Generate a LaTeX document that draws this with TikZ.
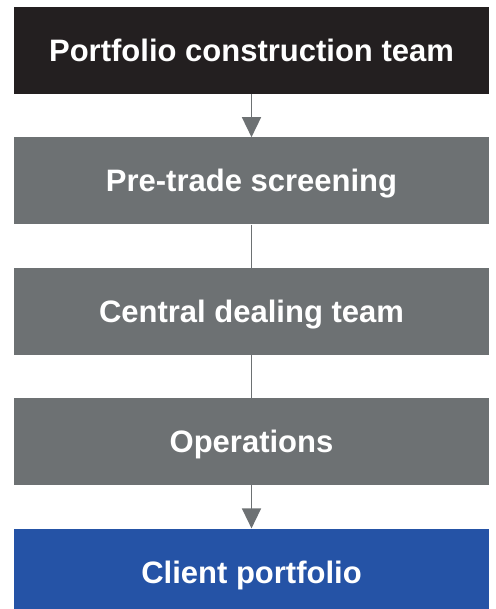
\documentclass[tikz,border=0pt]{standalone}
\usepackage{fontspec}
\setmainfont{Liberation Sans}
\usetikzlibrary{positioning,arrows.meta}
\definecolor{TeamBlack}{RGB}{35,31,32}
\definecolor{StepGray}{RGB}{109,113,115}
\definecolor{ClientBlue}{RGB}{37,83,166}
\tikzset{
  flow/.style={-{Triangle[length=20pt,width=19pt]},line width=1.5pt,draw=StepGray},
  link/.style={line width=1pt,draw=StepGray},
  box/.style={fill=StepGray,minimum width=475pt,minimum height=87pt,inner sep=0pt,
    text=white,font=\fontsize{31}{36}\selectfont\bfseries,text height=22pt,text depth=0pt},
  topbox/.style={box,fill=TeamBlack},
  clientbox/.style={box,fill=ClientBlue}
}
\begin{document}
\begin{tikzpicture}[x=1pt,y=-1pt,node distance=43pt]
  \useasboundingbox (0,0) rectangle (495,609);
  \node[topbox] (team) at (251.5,50.5) {Portfolio construction team};
  \node[box,below=of team] (screen) {Pre-trade screening};
  \node[box,below=of screen] (deal) {Central dealing team};
  \node[box,below=of deal] (ops) {Operations};
  \node[clientbox,below=of ops] (client) {Client portfolio};
  \draw[flow] (team) -- (screen);
  \draw[link] (screen) -- (deal);
  \draw[link] (deal) -- (ops);
  \draw[flow] (ops) -- (client);
\end{tikzpicture}
\end{document}
